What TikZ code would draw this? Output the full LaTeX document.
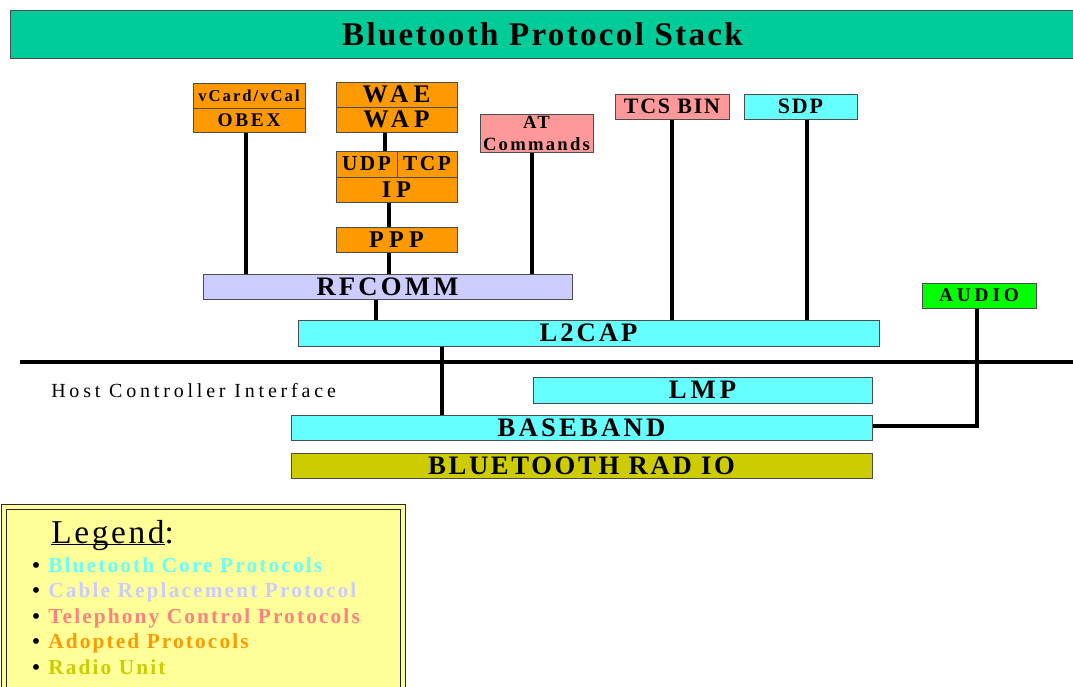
\documentclass[tikz,border=0pt]{standalone}
\usepackage{fontspec}
\setmainfont{Liberation Serif}
\definecolor{titlegreen}{HTML}{00CC99}
\definecolor{orng}{HTML}{FF9900}
\definecolor{pnk}{HTML}{FF9999}
\definecolor{cyn}{HTML}{66FFFF}
\definecolor{lav}{HTML}{CCCCFF}
\definecolor{grn}{HTML}{00FF00}
\definecolor{olv}{HTML}{CCCC00}
\definecolor{lgyel}{HTML}{FFFF99}
\definecolor{lgpink}{HTML}{FF8080}
\newcommand\tb[2]{\bfseries\fontsize{#1}{#1}\selectfont\addfontfeatures{LetterSpace=#2}}
\newcommand\tr[2]{\fontsize{#1}{#1}\selectfont\addfontfeatures{LetterSpace=#2}}
\newcommand\atfont{\bfseries\fontsize{14}{16.5}\selectfont\addfontfeatures{LetterSpace=12}}
\newsavebox\ulbox
\newcommand\myul[1]{\sbox\ulbox{#1}\rlap{\rule[-1.6pt]{\wd\ulbox}{1pt}}\usebox\ulbox}
\newcommand\bx[7]{\node[box,#6,minimum width={(#4-#2)*0.75pt},minimum height={(#5-#3)*0.75pt}] (#1) at ({(#2+#4)/2},{(#3+#5)/2}) {#7};}
\begin{document}
\begin{tikzpicture}[x=0.75pt,y=-0.75pt,
  box/.style={draw=black!70,line width=0.75pt,inner sep=0pt,align=center,text=black},
  conn/.style={line width=3.4pt,black},
  hci/.style={line width=2.6pt,black},
  lgitem/.style={anchor=base west,inner sep=0pt}]
\useasboundingbox (0,0) rectangle (1073,686);
\fill[white] (0,0) rectangle (1073,686);
% boxes
\bx{title}{10}{10}{1075}{58}{fill=titlegreen}{\tb{24.8}{7}Bluetooth Protocol Stack}
\bx{vcard}{193}{83}{305}{108}{fill=orng}{\tb{12.5}{12}vCard/vCal}
\bx{obex}{193}{108}{305}{132}{fill=orng}{\tb{14.5}{14}OBEX}
\bx{wae}{336}{82}{457}{107}{fill=orng}{\tb{19}{20}WAE}
\bx{wap}{336}{107}{457}{132}{fill=orng}{\tb{19}{20}WAP}
\bx{udp}{336}{151}{397}{177}{fill=orng}{\tb{16}{12}UDP}
\bx{tcp}{397}{151}{457}{177}{fill=orng}{\tb{16}{12}TCP}
\bx{ip}{336}{177}{457}{202}{fill=orng}{\tb{18}{22}IP}
\bx{ppp}{336}{227}{457}{252}{fill=orng}{\tb{18}{22}PPP}
\bx{at}{480}{114}{593}{152}{fill=pnk,font=\atfont}{AT\\Commands}
\bx{tcs}{615}{94}{729}{119}{fill=pnk}{\tb{16.5}{8}TCS BIN}
\bx{sdp}{744}{94}{857}{119}{fill=cyn}{\tb{16.5}{8}SDP}
\bx{rfcomm}{203}{274}{572}{299}{fill=lav}{\tb{20}{12}RFCOMM}
\bx{l2cap}{298}{320}{879}{346}{fill=cyn}{\tb{20}{11}L2CAP}
\bx{audio}{922}{283}{1036}{308}{fill=grn}{\tb{14.5}{20}AUDIO}
\bx{lmp}{533}{377}{872}{403}{fill=cyn}{\tb{20}{15}LMP}
\bx{baseband}{291}{415}{872}{440}{fill=cyn}{\tb{20}{12}BASEBAND}
\bx{radio}{291}{453}{872}{478}{fill=olv}{\tb{20}{10}BLUETOOTH RAD IO}
% connectors
\draw[conn] (246,0 |- obex.south) -- (246,0 |- rfcomm.north);
\draw[conn] (385,0 |- wap.south) -- (385,0 |- udp.north);
\draw[conn] (389,0 |- ip.south) -- (389,0 |- ppp.north);
\draw[conn] (389,0 |- ppp.south) -- (389,0 |- rfcomm.north);
\draw[conn] (532,0 |- at.south) -- (532,0 |- rfcomm.north);
\draw[conn] (376,0 |- rfcomm.south) -- (376,0 |- l2cap.north);
\draw[conn] (672,0 |- tcs.south) -- (672,0 |- l2cap.north);
\draw[conn] (807,0 |- sdp.south) -- (807,0 |- l2cap.north);
\draw[conn] (442,0 |- l2cap.south) -- (442,0 |- baseband.north);
\draw[conn] (977,0 |- audio.south) -- (977,426) -- (baseband.east |- 0,426);
% host controller interface
\coordinate (hciL) at (20,362);
\coordinate (hciR) at (1080,362);
\draw[hci] (hciL) -- (hciR);
\node[anchor=base west,inner sep=0pt] (hcitext) at (51,397) {\tr{15}{19}Host Controller Interface};
% legend
\node[draw=black!85,line width=0.75pt,double=lgyel,double distance=2.4pt,fill=lgyel,inner sep=0pt,
  minimum width={399*0.75pt},minimum height={220*0.75pt}] (legend) at (203.5,617) {};
\node[lgitem] (lgtitle) at (51,543) {\tr{25}{8}\myul{Legend}:};
\node[lgitem] (li1) at (32,572) {\tb{16}{10}\makebox[12pt][l]{•}\textcolor{cyn}{Bluetooth Core Protocols}};
\node[lgitem] (li2) at (32,597.5) {\tb{16}{10}\makebox[12pt][l]{•}\textcolor{lav}{Cable Replacement Protocol}};
\node[lgitem] (li3) at (32,623) {\tb{16}{10}\makebox[12pt][l]{•}\textcolor{lgpink}{Telephony Control Protocols}};
\node[lgitem] (li4) at (32,648.5) {\tb{16}{10}\makebox[12pt][l]{•}\textcolor{orng}{Adopted Protocols}};
\node[lgitem] (li5) at (32,674) {\tb{16}{10}\makebox[12pt][l]{•}\textcolor{olv}{Radio Unit}};
\end{tikzpicture}
\end{document}
